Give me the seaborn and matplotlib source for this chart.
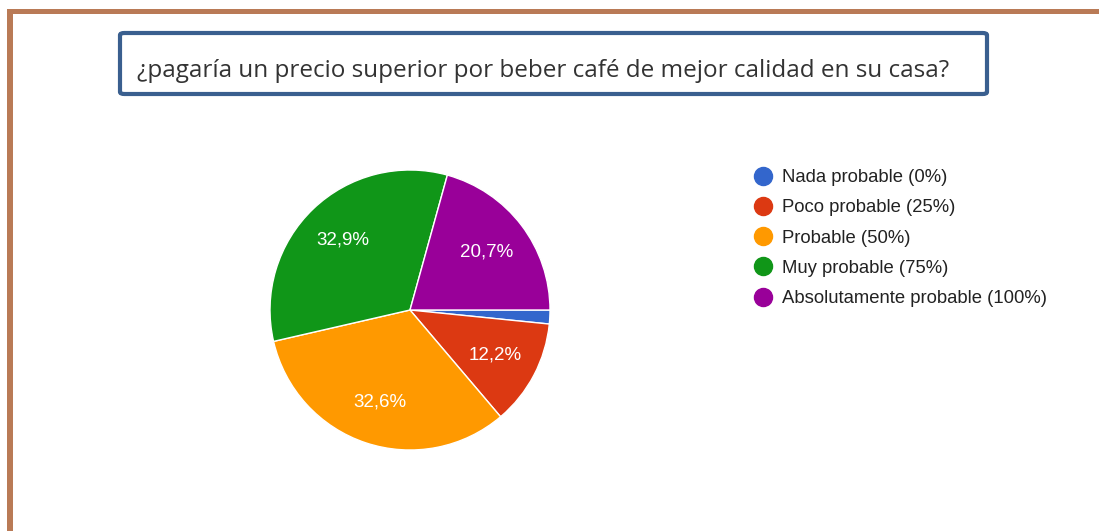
import matplotlib
matplotlib.use('Agg')
import matplotlib.pyplot as plt
from matplotlib.patches import Rectangle, FancyBboxPatch
from matplotlib.lines import Line2D
import seaborn as sns

sns.set_theme(style='white')
plt.rcParams['font.family'] = ['Liberation Sans', 'DejaVu Sans']

## data
title = '¿pagaría un precio superior por beber café de mejor calidad en su casa?'
categories = ['Nada probable (0%)', 'Poco probable (25%)', 'Probable (50%)',
              'Muy probable (75%)', 'Absolutamente probable (100%)']
shares = [1.6, 12.2, 32.6, 32.9, 20.7]
colors = ['#3366cc', '#dc3912', '#ff9900', '#109618', '#990099']

W, H = 1099, 531
fig = plt.figure(figsize=(W / 100, H / 100), dpi=100)

def fx(px):
    return px / W

def fy(py):
    return 1 - py / H

# brown frame (top and left)
fig.add_artist(Rectangle((fx(7), fy(14)), fx(W), 5 / H, transform=fig.transFigure,
                         color='#b97a56', lw=0))
fig.add_artist(Rectangle((fx(7), 0), 6 / W, fy(9), transform=fig.transFigure,
                         color='#b97a56', lw=0))

# title box
fig.add_artist(FancyBboxPatch((fx(120), fy(94)), fx(867), 61 / H,
                              boxstyle='round,pad=0,rounding_size=0.004',
                              transform=fig.transFigure, fill=False,
                              edgecolor='#3a5f8f', lw=3))
fig.text(fx(137), fy(71), title, family=['Open Sans', 'DejaVu Sans'],
         fontsize=17.5, color='#333333', va='center', ha='left')

# pie
cx, cy, r = 410, 310, 140
ax = fig.add_axes([fx(cx - r), fy(cy + r), 2 * r / W, 2 * r / H])

def fmt(p):
    return '' if p < 5 else f'{p:.1f}%'.replace('.', ',')

wedges, texts, autotexts = ax.pie(shares, colors=colors, startangle=0, counterclock=False,
                                  autopct=fmt, pctdistance=0.69,
                                  wedgeprops=dict(edgecolor='white', linewidth=1))
for t in autotexts:
    t.set_color('white')
    t.set_fontsize(13.5)
ax.set_xlim(-1, 1)
ax.set_ylim(-1, 1)
ax.set_aspect('equal')
ax.axis('off')

# legend with round markers
handles = [Line2D([], [], marker='o', ls='', markersize=13, markerfacecolor=c,
                  markeredgecolor=c) for c in colors]
fig.legend(handles, categories, loc='upper left', bbox_to_anchor=(fx(752), fy(169)),
           frameon=False, fontsize=13.3, labelspacing=0.72, handletextpad=0.45,
           handlelength=1.2, borderaxespad=0, borderpad=0, labelcolor='#222222')

fig.savefig('out.png', dpi=100)
